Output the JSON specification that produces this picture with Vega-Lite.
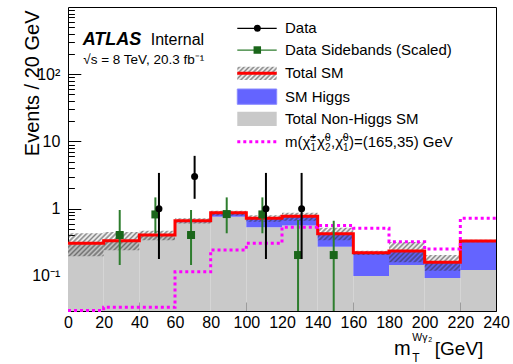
{
"$schema":"https://vega.github.io/schema/vega-lite/v6.json",
"width":428,"height":304,"autosize":"none",
"padding":{"left":68,"top":7,"right":17,"bottom":53},
"background":"white",
"data":{"values":[{}]},
"datasets":{
"bins":[
{"lo":0,"hi":20,"tot":0.305,"bkg":0.300},
{"lo":20,"hi":40,"tot":0.333,"bkg":0.328},
{"lo":40,"hi":60,"tot":0.405,"bkg":0.398},
{"lo":60,"hi":80,"tot":0.661,"bkg":0.630},
{"lo":80,"hi":100,"tot":0.869,"bkg":0.758},
{"lo":100,"hi":120,"tot":0.718,"bkg":0.527},
{"lo":120,"hi":140,"tot":0.769,"bkg":0.561},
{"lo":140,"hi":160,"tot":0.424,"bkg":0.272},
{"lo":160,"hi":180,"tot":0.221,"bkg":0.0995},
{"lo":180,"hi":200,"tot":0.234,"bkg":0.145},
{"lo":200,"hi":220,"tot":0.159,"bkg":0.093},
{"lo":220,"hi":240,"tot":0.330,"bkg":0.122}],
"steps":[
{"x":0,"tot":0.305,"ulo":0.195,"uhi":0.43,"sig":0.0305},
{"x":20,"tot":0.333,"ulo":0.24,"uhi":0.45,"sig":0.034},
{"x":40,"tot":0.405,"ulo":0.34,"uhi":0.47,"sig":0.034},
{"x":60,"tot":0.661,"ulo":0.60,"uhi":0.72,"sig":0.115},
{"x":80,"tot":0.869,"ulo":0.79,"uhi":0.93,"sig":0.242},
{"x":100,"tot":0.718,"ulo":0.64,"uhi":0.80,"sig":0.305},
{"x":120,"tot":0.769,"ulo":0.66,"uhi":0.87,"sig":0.527},
{"x":140,"tot":0.424,"ulo":0.34,"uhi":0.52,"sig":0.56},
{"x":160,"tot":0.221,"ulo":0.205,"uhi":0.236,"sig":0.51},
{"x":180,"tot":0.234,"ulo":0.16,"uhi":0.32,"sig":0.322},
{"x":200,"tot":0.159,"ulo":0.119,"uhi":0.204,"sig":0.25},
{"x":220,"tot":0.330,"ulo":0.315,"uhi":0.345,"sig":0.718},
{"x":240,"tot":0.330,"ulo":0.315,"uhi":0.345,"sig":0.718}],
"side":[
{"x":29,"v":0.405,"lo":0.145,"hi":0.955},
{"x":49,"v":0.82,"lo":0.43,"hi":1.47},
{"x":69,"v":0.405,"lo":0.145,"hi":0.955},
{"x":89,"v":0.83,"lo":0.43,"hi":1.47},
{"x":109,"v":0.82,"lo":0.43,"hi":1.47},
{"x":129,"v":0.204,"lo":0.03,"hi":0.678},
{"x":149,"v":0.204,"lo":0.03,"hi":0.66}],
"obs":[
{"x":51,"v":1,"lo":0.178,"hi":3.4},
{"x":71,"v":3,"lo":1.4,"hi":6.1},
{"x":111,"v":1,"lo":0.178,"hi":3.4},
{"x":131,"v":1,"lo":0.178,"hi":3.4}]
},
"resolve":{"axis":{"x":"independent","y":"independent"}},
"layer":[
{"data":{"name":"bins"},"mark":{"type":"rect","color":"#c9c9c9"},
"encoding":{
"x":{"field":"lo","type":"quantitative","scale":{"domain":[0,240],"nice":false,"zero":false},
"axis":{"orient":"bottom","values":[0,20,40,60,80,100,120,140,160,180,200,220,240],"tickSize":-9,"tickWidth":1,"labelFontSize":16,"labelPadding":12,"labelFlush":false,"labelOverlap":false,"domain":true,"domainWidth":1,"title":null}},
"x2":{"field":"hi"},
"y":{"field":"bkg","type":"quantitative","scale":{"type":"log","domain":[0.03,1000],"nice":false},
"axis":{"orient":"left","values":[0.1,1,10,100],"tickSize":-12.8,"tickWidth":1,"labelFontSize":16,"labelPadding":21,"labelExpr":"datum.value < 0.5 ? '10⁻¹' : datum.value < 5 ? '1' : datum.value < 50 ? '10' : '10²'","labelBaseline":"middle","labelAlign":"right","labelOverlap":false,"labelFlush":false,"domain":true,"domainWidth":1,"title":"Events / 20 GeV","titleFontSize":20,"titleFontWeight":"normal","titleAngle":270,"titleAlign":"right","titleBaseline":"alphabetic","titleX":-30,"titleY":3}},
"y2":{"datum":0.03}}},
{"data":{"name":"bins"},"mark":{"type":"rect","color":"#6464ff"},
"encoding":{
"x":{"field":"lo","type":"quantitative","axis":{"orient":"bottom","values":[5,10,15,25,30,35,45,50,55,65,70,75,85,90,95,105,110,115,125,130,135,145,150,155,165,170,175,185,190,195,205,210,215,225,230,235],"tickSize":-4.5,"tickWidth":1,"labels":false,"domain":false,"title":null}},
"x2":{"field":"hi"},
"y":{"field":"tot","type":"quantitative","axis":{"orient":"left","values":[0.04,0.05,0.06,0.07,0.08,0.09,0.2,0.3,0.4,0.5,0.6,0.7,0.8,0.9,2,3,4,5,6,7,8,9,20,30,40,50,60,70,80,90,200,300,400,500,600,700,800,900],"tickSize":-6.4,"tickWidth":1,"labels":false,"domain":false,"title":null}},
"y2":{"field":"bkg"}}},
{"data":{"name":"steps"},"mark":{"type":"area","interpolate":"step-after","stroke":null,
"fill":{"gradient":"linear","x1":0,"y1":0,"x2":1.1182,"y2":0.1568,"stops":[
{"offset":0,"color":"#3330"},{"offset":0.005,"color":"#3339"},{"offset":0.01,"color":"#3330"},{"offset":0.015,"color":"#3339"},{"offset":0.02,"color":"#3330"},{"offset":0.025,"color":"#3339"},{"offset":0.03,"color":"#3330"},{"offset":0.035,"color":"#3339"},{"offset":0.04,"color":"#3330"},{"offset":0.045,"color":"#3339"},
{"offset":0.05,"color":"#3330"},{"offset":0.055,"color":"#3339"},{"offset":0.06,"color":"#3330"},{"offset":0.065,"color":"#3339"},{"offset":0.07,"color":"#3330"},{"offset":0.075,"color":"#3339"},{"offset":0.08,"color":"#3330"},{"offset":0.085,"color":"#3339"},{"offset":0.09,"color":"#3330"},{"offset":0.095,"color":"#3339"},
{"offset":0.1,"color":"#3330"},{"offset":0.105,"color":"#3339"},{"offset":0.11,"color":"#3330"},{"offset":0.115,"color":"#3339"},{"offset":0.12,"color":"#3330"},{"offset":0.125,"color":"#3339"},{"offset":0.13,"color":"#3330"},{"offset":0.135,"color":"#3339"},{"offset":0.14,"color":"#3330"},{"offset":0.145,"color":"#3339"},
{"offset":0.15,"color":"#3330"},{"offset":0.155,"color":"#3339"},{"offset":0.16,"color":"#3330"},{"offset":0.165,"color":"#3339"},{"offset":0.17,"color":"#3330"},{"offset":0.175,"color":"#3339"},{"offset":0.18,"color":"#3330"},{"offset":0.185,"color":"#3339"},{"offset":0.19,"color":"#3330"},{"offset":0.195,"color":"#3339"},
{"offset":0.2,"color":"#3330"},{"offset":0.205,"color":"#3339"},{"offset":0.21,"color":"#3330"},{"offset":0.215,"color":"#3339"},{"offset":0.22,"color":"#3330"},{"offset":0.225,"color":"#3339"},{"offset":0.23,"color":"#3330"},{"offset":0.235,"color":"#3339"},{"offset":0.24,"color":"#3330"},{"offset":0.245,"color":"#3339"},
{"offset":0.25,"color":"#3330"},{"offset":0.255,"color":"#3339"},{"offset":0.26,"color":"#3330"},{"offset":0.265,"color":"#3339"},{"offset":0.27,"color":"#3330"},{"offset":0.275,"color":"#3339"},{"offset":0.28,"color":"#3330"},{"offset":0.285,"color":"#3339"},{"offset":0.29,"color":"#3330"},{"offset":0.295,"color":"#3339"},
{"offset":0.3,"color":"#3330"},{"offset":0.305,"color":"#3339"},{"offset":0.31,"color":"#3330"},{"offset":0.315,"color":"#3339"},{"offset":0.32,"color":"#3330"},{"offset":0.325,"color":"#3339"},{"offset":0.33,"color":"#3330"},{"offset":0.335,"color":"#3339"},{"offset":0.34,"color":"#3330"},{"offset":0.345,"color":"#3339"},
{"offset":0.35,"color":"#3330"},{"offset":0.355,"color":"#3339"},{"offset":0.36,"color":"#3330"},{"offset":0.365,"color":"#3339"},{"offset":0.37,"color":"#3330"},{"offset":0.375,"color":"#3339"},{"offset":0.38,"color":"#3330"},{"offset":0.385,"color":"#3339"},{"offset":0.39,"color":"#3330"},{"offset":0.395,"color":"#3339"},
{"offset":0.4,"color":"#3330"},{"offset":0.405,"color":"#3339"},{"offset":0.41,"color":"#3330"},{"offset":0.415,"color":"#3339"},{"offset":0.42,"color":"#3330"},{"offset":0.425,"color":"#3339"},{"offset":0.43,"color":"#3330"},{"offset":0.435,"color":"#3339"},{"offset":0.44,"color":"#3330"},{"offset":0.445,"color":"#3339"},
{"offset":0.45,"color":"#3330"},{"offset":0.455,"color":"#3339"},{"offset":0.46,"color":"#3330"},{"offset":0.465,"color":"#3339"},{"offset":0.47,"color":"#3330"},{"offset":0.475,"color":"#3339"},{"offset":0.48,"color":"#3330"},{"offset":0.485,"color":"#3339"},{"offset":0.49,"color":"#3330"},{"offset":0.495,"color":"#3339"},
{"offset":0.5,"color":"#3330"},{"offset":0.505,"color":"#3339"},{"offset":0.51,"color":"#3330"},{"offset":0.515,"color":"#3339"},{"offset":0.52,"color":"#3330"},{"offset":0.525,"color":"#3339"},{"offset":0.53,"color":"#3330"},{"offset":0.535,"color":"#3339"},{"offset":0.54,"color":"#3330"},{"offset":0.545,"color":"#3339"},
{"offset":0.55,"color":"#3330"},{"offset":0.555,"color":"#3339"},{"offset":0.56,"color":"#3330"},{"offset":0.565,"color":"#3339"},{"offset":0.57,"color":"#3330"},{"offset":0.575,"color":"#3339"},{"offset":0.58,"color":"#3330"},{"offset":0.585,"color":"#3339"},{"offset":0.59,"color":"#3330"},{"offset":0.595,"color":"#3339"},
{"offset":0.6,"color":"#3330"},{"offset":0.605,"color":"#3339"},{"offset":0.61,"color":"#3330"},{"offset":0.615,"color":"#3339"},{"offset":0.62,"color":"#3330"},{"offset":0.625,"color":"#3339"},{"offset":0.63,"color":"#3330"},{"offset":0.635,"color":"#3339"},{"offset":0.64,"color":"#3330"},{"offset":0.645,"color":"#3339"},
{"offset":0.65,"color":"#3330"},{"offset":0.655,"color":"#3339"},{"offset":0.66,"color":"#3330"},{"offset":0.665,"color":"#3339"},{"offset":0.67,"color":"#3330"},{"offset":0.675,"color":"#3339"},{"offset":0.68,"color":"#3330"},{"offset":0.685,"color":"#3339"},{"offset":0.69,"color":"#3330"},{"offset":0.695,"color":"#3339"},
{"offset":0.7,"color":"#3330"},{"offset":0.705,"color":"#3339"},{"offset":0.71,"color":"#3330"},{"offset":0.715,"color":"#3339"},{"offset":0.72,"color":"#3330"},{"offset":0.725,"color":"#3339"},{"offset":0.73,"color":"#3330"},{"offset":0.735,"color":"#3339"},{"offset":0.74,"color":"#3330"},{"offset":0.745,"color":"#3339"},
{"offset":0.75,"color":"#3330"},{"offset":0.755,"color":"#3339"},{"offset":0.76,"color":"#3330"},{"offset":0.765,"color":"#3339"},{"offset":0.77,"color":"#3330"},{"offset":0.775,"color":"#3339"},{"offset":0.78,"color":"#3330"},{"offset":0.785,"color":"#3339"},{"offset":0.79,"color":"#3330"},{"offset":0.795,"color":"#3339"},
{"offset":0.8,"color":"#3330"},{"offset":0.805,"color":"#3339"},{"offset":0.81,"color":"#3330"},{"offset":0.815,"color":"#3339"},{"offset":0.82,"color":"#3330"},{"offset":0.825,"color":"#3339"},{"offset":0.83,"color":"#3330"},{"offset":0.835,"color":"#3339"},{"offset":0.84,"color":"#3330"},{"offset":0.845,"color":"#3339"},
{"offset":0.85,"color":"#3330"},{"offset":0.855,"color":"#3339"},{"offset":0.86,"color":"#3330"},{"offset":0.865,"color":"#3339"},{"offset":0.87,"color":"#3330"},{"offset":0.875,"color":"#3339"},{"offset":0.88,"color":"#3330"},{"offset":0.885,"color":"#3339"},{"offset":0.89,"color":"#3330"},{"offset":0.895,"color":"#3339"},
{"offset":0.9,"color":"#3330"},{"offset":0.905,"color":"#3339"},{"offset":0.91,"color":"#3330"},{"offset":0.915,"color":"#3339"},{"offset":0.92,"color":"#3330"},{"offset":0.925,"color":"#3339"},{"offset":0.93,"color":"#3330"},{"offset":0.935,"color":"#3339"},{"offset":0.94,"color":"#3330"},{"offset":0.945,"color":"#3339"},
{"offset":0.95,"color":"#3330"},{"offset":0.955,"color":"#3339"},{"offset":0.96,"color":"#3330"},{"offset":0.965,"color":"#3339"},{"offset":0.97,"color":"#3330"},{"offset":0.975,"color":"#3339"},{"offset":0.98,"color":"#3330"},{"offset":0.985,"color":"#3339"},{"offset":0.99,"color":"#3330"},{"offset":0.995,"color":"#3339"},
{"offset":1,"color":"#3330"}]}},
"encoding":{"x":{"field":"x","type":"quantitative","axis":null},"y":{"field":"uhi","type":"quantitative","axis":null},"y2":{"field":"ulo"}}},
{"data":{"name":"steps"},"mark":{"type":"line","interpolate":"step-after","color":"#ff0000","strokeWidth":3},
"encoding":{"x":{"field":"x","type":"quantitative","axis":{"orient":"top","ticks":false,"labels":false,"domain":true,"domainWidth":1,"title":null}},
"y":{"field":"tot","type":"quantitative","axis":{"orient":"right","ticks":false,"labels":false,"domain":true,"domainWidth":1,"title":null}}}},
{"data":{"name":"steps"},"mark":{"type":"line","interpolate":"step-after","color":"#ff00ff","strokeWidth":3,"strokeDash":[3,3]},
"encoding":{"x":{"field":"x","type":"quantitative","axis":null},"y":{"field":"sig","type":"quantitative","axis":null}}},
{"data":{"name":"side"},"mark":{"type":"rule","color":"#2e7d2e","strokeWidth":2},
"encoding":{"x":{"field":"x","type":"quantitative","axis":null},"y":{"field":"lo","type":"quantitative","axis":null},"y2":{"field":"hi"}}},
{"data":{"name":"side"},"mark":{"type":"point","shape":"square","filled":true,"size":64,"opacity":1,"color":"#1a661a"},
"encoding":{"x":{"field":"x","type":"quantitative","axis":null},"y":{"field":"v","type":"quantitative","axis":null}}},
{"data":{"name":"obs"},"mark":{"type":"rule","color":"#000","strokeWidth":2},
"encoding":{"x":{"field":"x","type":"quantitative","axis":null},"y":{"field":"lo","type":"quantitative","axis":null},"y2":{"field":"hi"}}},
{"data":{"name":"obs"},"mark":{"type":"point","shape":"circle","filled":true,"size":49,"opacity":1,"color":"#000"},
"encoding":{"x":{"field":"x","type":"quantitative","axis":null},"y":{"field":"v","type":"quantitative","axis":null}}},
{"mark":{"type":"text","text":"ATLAS","font":"Liberation Sans","fontSize":18,"fontWeight":"bold","fontStyle":"italic","align":"left","baseline":"alphabetic","color":"#000"},
"encoding":{"x":{"datum":8.24,"type":"quantitative","axis":null},"y":{"datum":272,"type":"quantitative","axis":null}}},
{"mark":{"type":"text","text":"Internal","font":"Liberation Sans","fontSize":16,"align":"left","baseline":"alphabetic","color":"#000"},
"encoding":{"x":{"datum":46.4,"type":"quantitative","axis":null},"y":{"datum":272,"type":"quantitative","axis":null}}},
{"mark":{"type":"text","text":"√s = 8 TeV, 20.3 fb⁻¹","font":"Liberation Sans","fontSize":13.5,"align":"left","baseline":"alphabetic","color":"#000"},
"encoding":{"x":{"datum":8.58,"type":"quantitative","axis":null},"y":{"datum":140.4,"type":"quantitative","axis":null}}},
{"mark":{"type":"rule","color":"#000","strokeWidth":1.3},
"encoding":{"x":{"datum":94.93,"type":"quantitative","axis":null},"x2":{"datum":117.03},"y":{"datum":482,"type":"quantitative","axis":null}}},
{"mark":{"type":"point","shape":"circle","filled":true,"size":49,"opacity":1,"color":"#000"},
"encoding":{"x":{"datum":106.15,"type":"quantitative","axis":null},"y":{"datum":482,"type":"quantitative","axis":null}}},
{"mark":{"type":"rule","color":"#2e7d2e","strokeWidth":1.3},
"encoding":{"x":{"datum":94.93,"type":"quantitative","axis":null},"x2":{"datum":117.03},"y":{"datum":229,"type":"quantitative","axis":null}}},
{"mark":{"type":"point","shape":"square","filled":true,"size":56,"opacity":1,"color":"#1a661a"},
"encoding":{"x":{"datum":106.15,"type":"quantitative","axis":null},"y":{"datum":229,"type":"quantitative","axis":null}}},
{"mark":{"type":"rect","stroke":null,"fill":{"gradient":"linear","x1":0,"y1":0,"x2":1.2007,"y2":0.4053,"stops":[
{"offset":0,"color":"#3330"},{"offset":0.0455,"color":"#3339"},{"offset":0.0909,"color":"#3330"},{"offset":0.1364,"color":"#3339"},{"offset":0.1818,"color":"#3330"},{"offset":0.2273,"color":"#3339"},{"offset":0.2727,"color":"#3330"},{"offset":0.3182,"color":"#3339"},{"offset":0.3636,"color":"#3330"},{"offset":0.4091,"color":"#3339"},{"offset":0.4545,"color":"#3330"},{"offset":0.5,"color":"#3339"},{"offset":0.5455,"color":"#3330"},{"offset":0.5909,"color":"#3339"},{"offset":0.6364,"color":"#3330"},{"offset":0.6818,"color":"#3339"},{"offset":0.7273,"color":"#3330"},{"offset":0.7727,"color":"#3339"},{"offset":0.8182,"color":"#3330"},{"offset":0.8636,"color":"#3339"},{"offset":0.9091,"color":"#3330"},{"offset":0.9545,"color":"#3339"},{"offset":1,"color":"#3330"}]}},
"encoding":{"x":{"datum":94.93,"type":"quantitative","axis":null},"x2":{"datum":117.03},"y":{"datum":129.3,"type":"quantitative","axis":null},"y2":{"datum":82.0}}},
{"mark":{"type":"rule","color":"#ff0000","strokeWidth":3},
"encoding":{"x":{"datum":94.93,"type":"quantitative","axis":null},"x2":{"datum":117.03},"y":{"datum":103.2,"type":"quantitative","axis":null}}},
{"mark":{"type":"rect","fill":"#6464ff","stroke":"#8a8aff","strokeWidth":1},
"encoding":{"x":{"datum":94.93,"type":"quantitative","axis":null},"x2":{"datum":117.03},"y":{"datum":60.25,"type":"quantitative","axis":null},"y2":{"datum":35.67}}},
{"mark":{"type":"rect","fill":"#c9c9c9","stroke":null},
"encoding":{"x":{"datum":94.93,"type":"quantitative","axis":null},"x2":{"datum":117.03},"y":{"datum":27.69,"type":"quantitative","axis":null},"y2":{"datum":16.96}}},
{"mark":{"type":"rule","color":"#ff00ff","strokeWidth":3,"strokeDash":[3,3]},
"encoding":{"x":{"datum":94.93,"type":"quantitative","axis":null},"x2":{"datum":117.03},"y":{"datum":9.9,"type":"quantitative","axis":null}}},
{"mark":{"type":"text","text":"Data","font":"Liberation Sans","fontSize":15,"align":"left","baseline":"middle","color":"#000"},
"encoding":{"x":{"datum":121.7,"type":"quantitative","axis":null},"y":{"datum":482,"type":"quantitative","axis":null}}},
{"mark":{"type":"text","text":"Data Sidebands (Scaled)","font":"Liberation Sans","fontSize":15,"align":"left","baseline":"middle","color":"#000"},
"encoding":{"x":{"datum":121.7,"type":"quantitative","axis":null},"y":{"datum":229,"type":"quantitative","axis":null}}},
{"mark":{"type":"text","text":"Total SM","font":"Liberation Sans","fontSize":15,"align":"left","baseline":"middle","color":"#000"},
"encoding":{"x":{"datum":121.7,"type":"quantitative","axis":null},"y":{"datum":103.2,"type":"quantitative","axis":null}}},
{"mark":{"type":"text","text":"SM Higgs","font":"Liberation Sans","fontSize":15,"align":"left","baseline":"middle","color":"#000"},
"encoding":{"x":{"datum":121.7,"type":"quantitative","axis":null},"y":{"datum":46.3,"type":"quantitative","axis":null}}},
{"mark":{"type":"text","text":"Total Non-Higgs SM","font":"Liberation Sans","fontSize":15,"align":"left","baseline":"middle","color":"#000"},
"encoding":{"x":{"datum":121.7,"type":"quantitative","axis":null},"y":{"datum":21.56,"type":"quantitative","axis":null}}},
{"mark":{"type":"text","text":"m(χ̃","font":"Liberation Sans","fontSize":15,"align":"left","baseline":"alphabetic","color":"#000"},
"encoding":{"x":{"datum":121.68,"type":"quantitative","axis":null},"y":{"datum":8.345,"type":"quantitative","axis":null}}},
{"mark":{"type":"text","text":"±","font":"Liberation Sans","fontSize":10,"align":"left","baseline":"alphabetic","color":"#000"},
"encoding":{"x":{"datum":135.98,"type":"quantitative","axis":null},"y":{"datum":10.15,"type":"quantitative","axis":null}}},
{"mark":{"type":"text","text":"1","font":"Liberation Sans","fontSize":10,"align":"left","baseline":"alphabetic","color":"#000"},
"encoding":{"x":{"datum":135.98,"type":"quantitative","axis":null},"y":{"datum":7.326,"type":"quantitative","axis":null}}},
{"mark":{"type":"text","text":"χ̃","font":"Liberation Sans","fontSize":15,"align":"left","baseline":"alphabetic","color":"#000"},
"encoding":{"x":{"datum":139.63,"type":"quantitative","axis":null},"y":{"datum":8.345,"type":"quantitative","axis":null}}},
{"mark":{"type":"text","text":"0","font":"Liberation Sans","fontSize":10,"align":"left","baseline":"alphabetic","color":"#000"},
"encoding":{"x":{"datum":144.11,"type":"quantitative","axis":null},"y":{"datum":10.15,"type":"quantitative","axis":null}}},
{"mark":{"type":"text","text":"2","font":"Liberation Sans","fontSize":10,"align":"left","baseline":"alphabetic","color":"#000"},
"encoding":{"x":{"datum":144.11,"type":"quantitative","axis":null},"y":{"datum":7.326,"type":"quantitative","axis":null}}},
{"mark":{"type":"text","text":",χ̃","font":"Liberation Sans","fontSize":15,"align":"left","baseline":"alphabetic","color":"#000"},
"encoding":{"x":{"datum":147.48,"type":"quantitative","axis":null},"y":{"datum":8.345,"type":"quantitative","axis":null}}},
{"mark":{"type":"text","text":"0","font":"Liberation Sans","fontSize":10,"align":"left","baseline":"alphabetic","color":"#000"},
"encoding":{"x":{"datum":154.21,"type":"quantitative","axis":null},"y":{"datum":10.15,"type":"quantitative","axis":null}}},
{"mark":{"type":"text","text":"1","font":"Liberation Sans","fontSize":10,"align":"left","baseline":"alphabetic","color":"#000"},
"encoding":{"x":{"datum":154.21,"type":"quantitative","axis":null},"y":{"datum":7.326,"type":"quantitative","axis":null}}},
{"mark":{"type":"text","text":")=(165,35) GeV","font":"Liberation Sans","fontSize":15,"align":"left","baseline":"alphabetic","color":"#000"},
"encoding":{"x":{"datum":157.57,"type":"quantitative","axis":null},"y":{"datum":8.345,"type":"quantitative","axis":null}}},
{"mark":{"type":"text","text":"m","font":"Liberation Sans","fontSize":20,"align":"left","baseline":"alphabetic","color":"#000"},
"encoding":{"x":{"datum":182.8,"type":"quantitative","axis":null},"y":{"datum":0.00671,"type":"quantitative","axis":null}}},
{"mark":{"type":"text","text":"T","font":"Liberation Sans","fontSize":12,"align":"left","baseline":"alphabetic","color":"#000"},
"encoding":{"x":{"datum":193.1,"type":"quantitative","axis":null},"y":{"datum":0.00514,"type":"quantitative","axis":null}}},
{"mark":{"type":"text","text":"Wγ","font":"Liberation Sans","fontSize":10.5,"align":"left","baseline":"alphabetic","color":"#000"},
"encoding":{"x":{"datum":193.1,"type":"quantitative","axis":null},"y":{"datum":0.01091,"type":"quantitative","axis":null}}},
{"mark":{"type":"text","text":"2","font":"Liberation Sans","fontSize":7,"align":"left","baseline":"alphabetic","color":"#000"},
"encoding":{"x":{"datum":202.0,"type":"quantitative","axis":null},"y":{"datum":0.01037,"type":"quantitative","axis":null}}},
{"mark":{"type":"text","text":"[GeV]","font":"Liberation Sans","fontSize":19,"align":"right","baseline":"alphabetic","color":"#000"},
"encoding":{"x":{"datum":232.9,"type":"quantitative","axis":null},"y":{"datum":0.00671,"type":"quantitative","axis":null}}}
],
"config":{"view":{"stroke":null},"axis":{"grid":false,"labelFont":"Liberation Sans","titleFont":"Liberation Sans","labelColor":"#000","titleColor":"#000","tickColor":"#000","domainColor":"#000","zindex":1}}
}
